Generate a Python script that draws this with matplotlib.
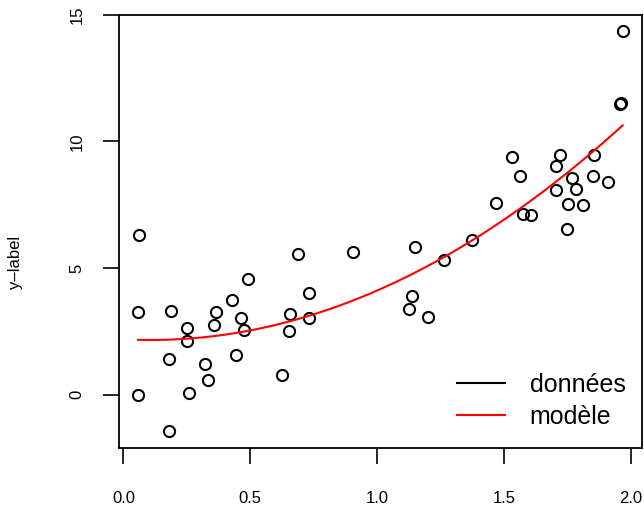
import numpy as np
import matplotlib
matplotlib.use("Agg")
import matplotlib.pyplot as plt
from matplotlib.lines import Line2D

plt.rcParams['font.family'] = ['Liberation Sans', 'DejaVu Sans']

# data
x_data = [0.063, 0.057, 0.187, 0.249, 0.249, 0.181, 0.057, 0.181, 0.258, 0.323,
          0.335, 0.366, 0.358, 0.428, 0.463, 0.475, 0.443, 0.491, 0.686, 0.903,
          0.733, 0.655, 0.732, 0.652, 0.626, 1.148, 1.265, 1.374, 1.467, 1.139,
          1.125, 1.201, 1.530, 1.563, 1.573, 1.606, 1.720, 1.705, 1.769, 1.706,
          1.782, 1.852, 1.856, 1.909, 1.750, 1.809, 1.748, 1.967, 1.955, 1.962]
y_data = [6.32, 3.27, 3.28, 2.62, 2.12, 1.41, -0.03, -1.46, 0.04, 1.22,
          0.58, 3.24, 2.74, 3.73, 3.04, 2.54, 1.55, 4.57, 5.57, 5.63,
          4.00, 3.20, 3.04, 2.51, 0.79, 5.81, 5.30, 6.12, 7.56, 3.88,
          3.36, 3.07, 9.38, 8.65, 7.14, 7.08, 9.46, 9.04, 8.57, 8.09,
          8.10, 8.62, 9.48, 8.38, 7.53, 7.47, 6.54, 14.37, 11.47, 11.50]
# quadratic model coefficients (intercept, linear, quadratic)
model_coefs = [2.182, -0.524, 2.450]

x_ticks = [0.0, 0.5, 1.0, 1.5, 2.0]
x_ticklabels = ["0.0", "0.5", "1.0", "1.5", "2.0"]
y_ticks = [0, 5, 10, 15]
y_ticklabels = ["0", "5", "10", "15"]
legend_labels = ["données", "modèle"]
y_label = "y\u2013label"

W, H = 644, 505
fig = plt.figure(figsize=(W / 100, H / 100), dpi=100)
L, R, T, B = 118.5, 642, 14.7, 447.5
ax = fig.add_axes([L / W, 1 - B / H, (R - L) / W, (B - T) / H])

xd = np.array(x_data)
yd = np.array(y_data)
ax.plot(xd, yd, linestyle='none', marker='o', markersize=8,
        markerfacecolor='none', markeredgecolor='black', markeredgewidth=1.5)

xs = np.linspace(xd.min(), xd.max(), 200)
ys = model_coefs[0] + model_coefs[1] * xs + model_coefs[2] * xs ** 2
ax.plot(xs, ys, color='red', linewidth=1.5)

# R-style 4% expansion
xr = xd.max() - xd.min()
yr = yd.max() - yd.min()
ax.set_xlim(xd.min() - 0.04 * xr, xd.max() + 0.04 * xr)
ax.set_ylim(yd.min() - 0.04 * yr, yd.max() + 0.04 * yr)

ax.set_xticks(x_ticks)
ax.set_xticklabels(x_ticklabels)
ax.set_yticks(y_ticks)
ax.set_yticklabels(y_ticklabels, rotation=90, va='center')
ax.tick_params(axis='both', direction='out', length=11.5, width=1.2,
               labelsize=12)
ax.tick_params(axis='x', pad=19.5)
ax.tick_params(axis='y', pad=13)
for s in ax.spines.values():
    s.set_linewidth(1.3)

fig.text(16 / W, 1 - 262 / H, y_label, rotation=90, ha='center', va='center',
         fontsize=12)

handles = [Line2D([], [], color='black', linewidth=1.5),
           Line2D([], [], color='red', linewidth=1.5)]
ax.legend(handles, legend_labels, loc='lower right', frameon=False,
          fontsize=18, handlelength=1.9, handletextpad=1.0,
          labelspacing=0.3, borderaxespad=0.3,
          bbox_to_anchor=(643 / W, 1 - 446 / H), bbox_transform=fig.transFigure)

fig.savefig('out.png', dpi=100)
